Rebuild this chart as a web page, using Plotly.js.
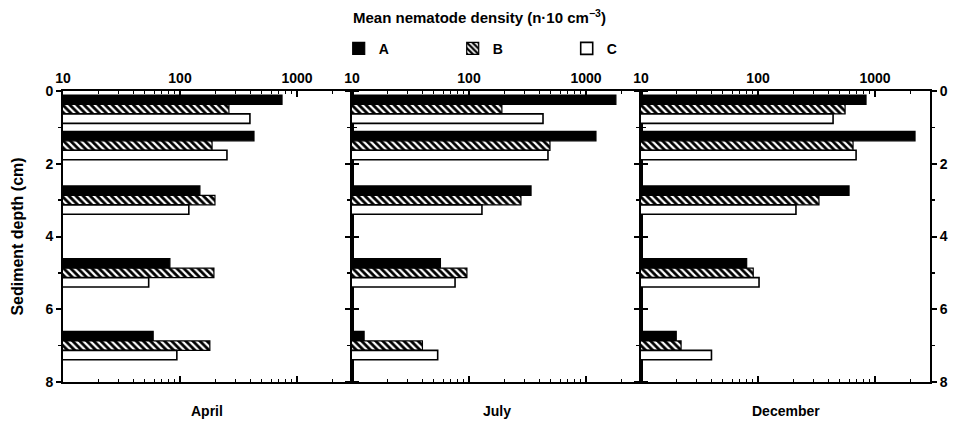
<!DOCTYPE html>
<html>
<head>
<meta charset="utf-8">
<script src="https://cdn.plot.ly/plotly-3.0.1.min.js"></script>
<style>html,body{margin:0;padding:0;background:#fff;}#chart{width:955px;height:428px;}</style>
</head>
<body>
<div id="chart"></div>
<script>
// Sediment depth (cm), midpoints of the sampled layers
const depths = [0.5, 1.5, 3, 5, 7];
const months = ["April", "July", "December"];
const seriesNames = ["A", "B", "C"];
// Mean nematode density (n·10 cm^-3), per month, per series
const aprilA = [745, 429, 148, 82, 59];
const aprilB = [262, 188, 199, 195, 180];
const aprilC = [396, 252, 119, 54, 94];
const julyA = [1800, 1216, 339, 57, 12.7];
const julyB = [191, 492, 278, 96, 40];
const julyC = [429, 473, 129, 76, 54];
const decemberA = [838, 2198, 600, 80, 20];
const decemberB = [555, 649, 332, 91, 22];
const decemberC = [438, 689, 211, 102, 40];
const xTickVals = [10, 100, 1000];
const xTickText = ["10", "100", "1000"];
const yTickVals = [0, 2, 4, 6, 8];

const data = [
  [aprilA, aprilB, aprilC],
  [julyA, julyB, julyC],
  [decemberA, decemberB, decemberC]
];

const styles = [
  {color: "#000000", line: {color: "#000", width: 1.2}},
  {color: "#ffffff", line: {color: "#000", width: 1.2},
   pattern: {shape: "\\", fgcolor: "#000", bgcolor: "#fff", size: 5, solidity: 0.55}},
  {color: "#ffffff", line: {color: "#000", width: 1.6}}
];

const traces = [];
data.forEach((panel, p) => {
  panel.forEach((vals, s) => {
    traces.push({
      type: "bar",
      orientation: "h",
      x: vals,
      y: depths,
      name: seriesNames[s],
      legendgroup: seriesNames[s],
      showlegend: p === 0,
      xaxis: p === 0 ? "x" : "x" + (p + 1),
      yaxis: p === 0 ? "y" : "y" + (p + 1),
      marker: styles[s],
      hoverinfo: "x+y"
    });
  });
});

const font = {family: "Liberation Sans, Arial, sans-serif", size: 14, color: "#000", weight: "bold"};
const domains = [[0, 0.3333], [0.3333, 0.6667], [0.6667, 1]];
const layout = {
  width: 955, height: 428,
  margin: {l: 63, r: 25, t: 91, b: 46, autoexpand: false},
  paper_bgcolor: "#fff", plot_bgcolor: "#fff",
  font: font,
  barmode: "group",
  bargap: 0.22,
  bargroupgap: 0,
  showlegend: true,
  legend: {orientation: "h", x: 0.318, xanchor: "left", xref: "paper",
           y: 1.145, yanchor: "middle", font: font, entrywidth: 69, entrywidthmode: "pixels",
           itemwidth: 30, traceorder: "normal", bgcolor: "rgba(0,0,0,0)"},
  annotations: [
    {text: "Mean nematode density (n·10 cm<sup>−3</sup>)", xref: "paper", yref: "paper",
     x: 0.48, y: 1.255, xanchor: "center", yanchor: "middle", showarrow: false,
     font: {family: font.family, size: 15, color: "#000", weight: "bold"}}
  ]
};

months.forEach((m, p) => {
  const xa = p === 0 ? "xaxis" : "xaxis" + (p + 1);
  const ya = p === 0 ? "yaxis" : "yaxis" + (p + 1);
  layout[xa] = {
    type: "log", domain: domains[p], range: [1, 3.47], side: "top",
    anchor: p === 0 ? "y" : "y" + (p + 1),
    tickvals: xTickVals, ticktext: xTickText,
    ticks: "inside", ticklen: 6, tickwidth: 1.5, tickcolor: "#000",
    minor: {ticks: "inside", ticklen: 3, tickwidth: 1, tickcolor: "#000", showgrid: false, dtick: "D1"},
    showline: true, linecolor: "#000", linewidth: 2, mirror: "ticks",
    showgrid: false, zeroline: false, tickfont: font, fixedrange: true
  };
  layout[ya] = {
    range: [8, 0], anchor: p === 0 ? "x" : "x" + (p + 1),
    side: p === 2 ? "right" : "left",
    tickvals: yTickVals, showticklabels: p !== 1,
    ticks: "outside", ticklen: 5, tickwidth: 2, tickcolor: "#000",
    minor: {ticks: "outside", ticklen: 3, tickwidth: 1.5, tickcolor: "#000", dtick: 1, showgrid: false},
    showline: true, linecolor: "#000", linewidth: 2, mirror: "ticks",
    showgrid: false, zeroline: false, tickfont: font, fixedrange: true
  };
  if (p === 0) {
    layout[ya].title = {text: "Sediment depth (cm)", font: {family: font.family, size: 16, color: "#000", weight: "bold"}, standoff: 18};
  } else {
    layout[ya].matches = "y";
  }
  layout.annotations.push({
    text: m, xref: "paper", yref: "paper",
    x: (domains[p][0] + domains[p][1]) / 2, y: -0.1, xanchor: "center", yanchor: "middle",
    showarrow: false, font: font
  });
});

Plotly.newPlot("chart", traces, layout, {displayModeBar: false, staticPlot: true});
</script>
</body>
</html>
